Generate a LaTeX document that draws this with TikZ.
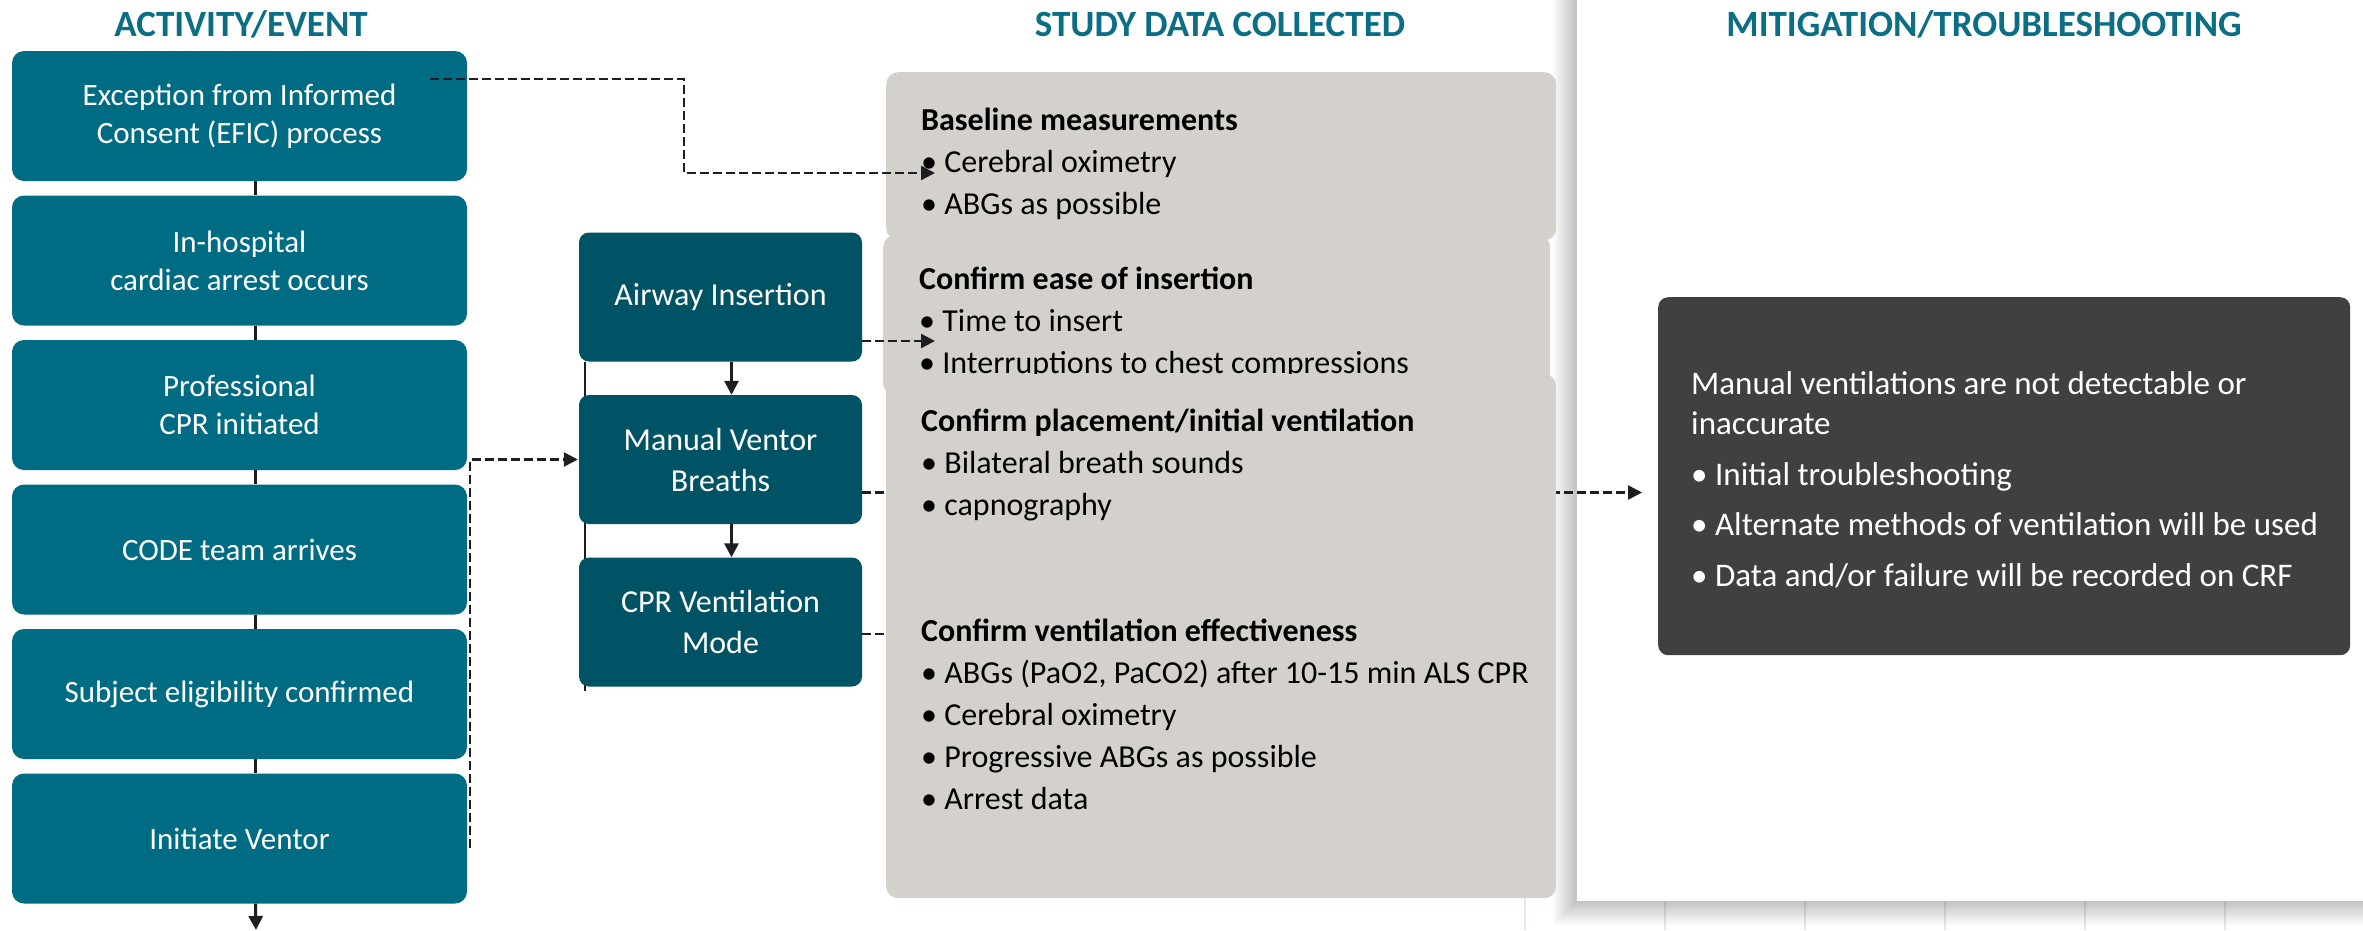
\documentclass[tikz,border=0pt]{standalone}
\usepackage{fontspec}
\setmainfont{Carlito}
\usetikzlibrary{arrows.meta,calc}
\definecolor{titleteal}{RGB}{11,110,133}
\definecolor{leftteal}{RGB}{0,108,132}
\definecolor{midteal}{RGB}{0,83,100}
\definecolor{greybox}{RGB}{212,209,204}
\definecolor{darkbox}{RGB}{64,64,64}
\definecolor{linec}{RGB}{30,30,34}
\definecolor{gridc}{RGB}{226,234,238}
\pgfdeclarelayer{bg}
\pgfdeclarelayer{back}
\pgfsetlayers{bg,back,main}
\begin{document}
\begin{tikzpicture}[x=1pt,y=-1pt,
  titlestyle/.style={text=titleteal,font=\fontsize{37}{42}\selectfont\bfseries,anchor=base,inner sep=0},
  lbox/.style={fill=leftteal,rounded corners=12pt,minimum width=455pt,minimum height=130pt,text=white,align=center,font=\fontsize{31}{38}\selectfont,inner sep=0},
  mbox/.style={fill=midteal,rounded corners=10pt,minimum width=283pt,minimum height=129pt,text=white,align=center,font=\fontsize{32}{41}\selectfont,inner sep=0},
  gbox/.style={fill=greybox,rounded corners=12pt,inner sep=0,anchor=north west},
  dkbox/.style={fill=darkbox,rounded corners=10pt,inner sep=0,anchor=north west},
  gtext/.style={font=\fontsize{32}{42}\selectfont,align=left,inner sep=0,anchor=base west,text=black},
  dtext/.style={font=\fontsize{33}{40}\selectfont,align=left,inner sep=0,anchor=base west,text=white},
  conn/.style={line width=3pt,draw=linec},
  dashconn/.style={line width=2.5pt,draw=linec,dash pattern=on 9pt off 4pt},
  tip/.style={-{Triangle[length=14pt,width=14pt]}}
]
\useasboundingbox (0,0) rectangle (2363,930);

\begin{pgfonlayer}{bg}
  \fill[white] (0,0) rectangle (2363,930);
  \foreach \gx in {1525,1665,1805,1945,2085,2225}
    \draw[gridc,line width=1.5pt] (\gx,880) -- (\gx,930);
  \foreach \i in {1,...,12}
    \fill[black,opacity=0.02] (1577-2*\i,-10) rectangle (2380,901+2*\i);
  \fill[white] (1577,-10) rectangle (2380,901);
\end{pgfonlayer}

% titles
\node[titlestyle] (h1) at (241,36) {ACTIVITY/EVENT};
\node[titlestyle] (h2) at (1220,36) {STUDY DATA COLLECTED};
\node[titlestyle] (h3) at (1984,36) {MITIGATION/TROUBLESHOOTING};

% left column
\node[lbox] (b1) at (239.5,116) {Exception from Informed\\Consent (EFIC) process};
\node[lbox] (b2) at (239.5,260.5) {In-hospital\\cardiac arrest occurs};
\node[lbox] (b3) at (239.5,405) {Professional\\CPR initiated};
\node[lbox] (b4) at (239.5,549.5) {CODE team arrives};
\node[lbox] (b5) at (239.5,694) {Subject eligibility confirmed};
\node[lbox] (b6) at (239.5,838.5) {Initiate Ventor};

% middle column
\node[mbox] (a) at (720.5,297) {Airway Insertion};
\node[mbox] (m) at (720.5,459.5) {Manual Ventor\\Breaths};
\node[mbox] (c) at (720.5,622) {CPR Ventilation\\Mode};

% lines behind the middle boxes and the grey panel
\begin{pgfonlayer}{back}
  \draw[line width=2.5pt,draw=linec] ([xshift=6pt]a.south west) -- ([xshift=6pt,yshift=-4pt]c.south west);
  \coordinate (cend) at (960,634);
  \draw[dashconn] ([yshift=-12pt]c.east) -- (cend);
\end{pgfonlayer}

% grey data boxes
\node[gbox,minimum width=670pt,minimum height=168pt] (g1) at (886,72) {};
\node[gtext] (g1t) at (921,214) {\textbf{Baseline measurements}\\• Cerebral oximetry\\• ABGs as possible};
\node[gbox,minimum width=667pt,minimum height=160pt] (g2) at (883,235) {};
\node[gtext] (g2t) at (919,373) {\textbf{Confirm ease of insertion}\\• Time to insert\\• Interruptions to chest compressions};

% dark mitigation box
\node[dkbox,minimum width=692pt,minimum height=358pt] (dk) at (1658,297) {};
\node[dtext] (dkt) at (1691,586) {Manual ventilations are not detectable or\\inaccurate\\[11pt]• Initial troubleshooting\\[10pt]• Alternate methods of ventilation will be used\\[11pt]• Data and/or failure will be recorded on CRF};

% dashed from Manual Ventor to the mitigation box (behind grey box 3)
\begin{pgfonlayer}{back}
  \draw[dashconn,tip,shorten >=16pt] ([yshift=-33pt]m.east) -- ([yshift=-33pt]m.east -| dk.west);
\end{pgfonlayer}

\node[gbox,minimum width=670pt,minimum height=524pt] (g3) at (886,374) {};
\node[gtext] (g3t) at (921,809) {\textbf{Confirm placement/initial ventilation}\\• Bilateral breath sounds\\• capnography\\[84pt]\textbf{Confirm ventilation effectiveness}\\• ABGs (PaO2, PaCO2) after 10-15 min ALS CPR\\• Cerebral oximetry\\• Progressive ABGs as possible\\• Arrest data};

% left column connectors
\foreach \u/\v in {b1/b2,b2/b3,b3/b4,b4/b5,b5/b6}
  \draw[conn] ([xshift=16pt]\u.south) -- ([xshift=16pt]\v.north);
\coordinate (bottomend) at (256,930);
\draw[conn,tip] ([xshift=16pt]b6.south) -- (bottomend);

% middle connectors
\draw[conn,tip] ([xshift=11pt]a.south) -- ([xshift=11pt]m.north);
\draw[conn,tip] ([xshift=11pt]m.south) -- ([xshift=11pt]c.north);

% dashed connectors
\coordinate (e1) at (430,79);
\coordinate (k1) at (684,0);
\coordinate (t1) at (935,173);
\draw[dashconn,tip] (e1) -- (e1 -| k1) |- (t1);
\draw[dashconn,tip] ([xshift=3pt,yshift=-9pt]b6.east) |- ([xshift=-1pt]m.west);
\coordinate (t3) at (935,341);
\draw[dashconn,tip] ([yshift=-44pt]a.east) -- (t3);
\end{tikzpicture}
\end{document}
